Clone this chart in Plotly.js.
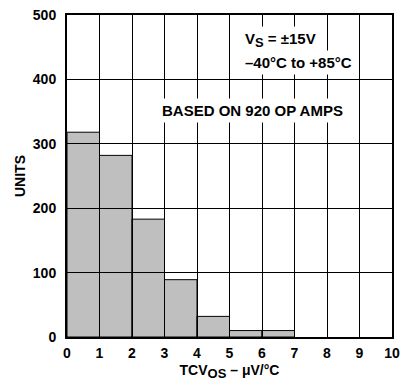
<!DOCTYPE html>
<html>
<head>
<meta charset="utf-8">
<script src="https://cdn.plot.ly/plotly-3.0.1.min.js"></script>
<style>html,body{margin:0;padding:0;background:#fff;}#chart{width:414px;height:385px;}</style>
</head>
<body>
<div id="chart"></div>
<script>
// Histogram bins (µV/°C) and counts (units)
var binStart = [0, 1, 2, 3, 4, 5, 6];
var binWidth = [1, 1, 1, 1, 1, 1, 1];
var units = [318, 282, 183, 89, 32, 10, 10];
var xTickVals = [0, 1, 2, 3, 4, 5, 6, 7, 8, 9, 10];
var yTickVals = [0, 100, 200, 300, 400, 500];

var FONT = 'Liberation Sans, Arial, Helvetica, sans-serif';

var binCenter = binStart.map(function (s, i) { return s + binWidth[i] / 2; });

var trace = {
  type: 'bar',
  x: binCenter,
  y: units,
  width: binWidth,
  marker: { color: 'rgba(0,0,0,0.25)', line: { color: '#000', width: 1 } },
  hoverinfo: 'skip'
};

var layout = {
  width: 414, height: 385,
  margin: { l: 67, r: 22, t: 15, b: 48, pad: 0 },
  paper_bgcolor: '#fff', plot_bgcolor: '#fff',
  showlegend: false,
  bargap: 0,
  font: { family: FONT, size: 14, color: '#000', weight: 700 },
  xaxis: {
    range: [0, 10], tickvals: xTickVals, ticktext: xTickVals.map(String),
    showgrid: true, gridcolor: '#000', gridwidth: 1,
    showline: true, linecolor: '#000', linewidth: 2, mirror: true,
    zeroline: false, ticks: '', ticklabelstandoff: 2,
    tickfont: { family: FONT, size: 14, weight: 700 },
    title: { text: 'TCV<sub><span style="font-size:13px">OS</span></sub> – μV/°C', font: { family: FONT, size: 14, weight: 700 }, standoff: 5 }
  },
  yaxis: {
    range: [0, 500], tickvals: yTickVals, ticktext: yTickVals.map(String),
    showgrid: true, gridcolor: '#000', gridwidth: 1,
    showline: true, linecolor: '#000', linewidth: 2, mirror: true,
    zeroline: false, ticks: '', ticklabelstandoff: 6,
    tickfont: { family: FONT, size: 14, weight: 700 },
    title: { text: 'UNITS', font: { family: FONT, size: 14, weight: 700 }, standoff: 4 }
  },
  annotations: [
    { xref: 'paper', yref: 'paper', x: 0.534, y: 0.921, xanchor: 'left', yanchor: 'middle',
      text: 'V<sub><span style="font-size:13px">S</span></sub> = ±15V', showarrow: false, bgcolor: '#fff', borderpad: 3,
      font: { family: FONT, size: 15, weight: 700 } },
    { xref: 'paper', yref: 'paper', x: 0.534, y: 0.852, xanchor: 'left', yanchor: 'middle',
      text: '–40°C to +85°C', showarrow: false, bgcolor: '#fff', borderpad: 3,
      font: { family: FONT, size: 15, weight: 700 } },
    { xref: 'paper', yref: 'paper', x: 0.570, y: 0.704, xanchor: 'center', yanchor: 'middle',
      text: 'BASED ON 920 OP AMPS', showarrow: false, bgcolor: '#fff', borderpad: 3,
      font: { family: FONT, size: 15, weight: 700 } }
  ]
};

Plotly.newPlot('chart', [trace], layout, { staticPlot: true, displayModeBar: false });
</script>
</body>
</html>
